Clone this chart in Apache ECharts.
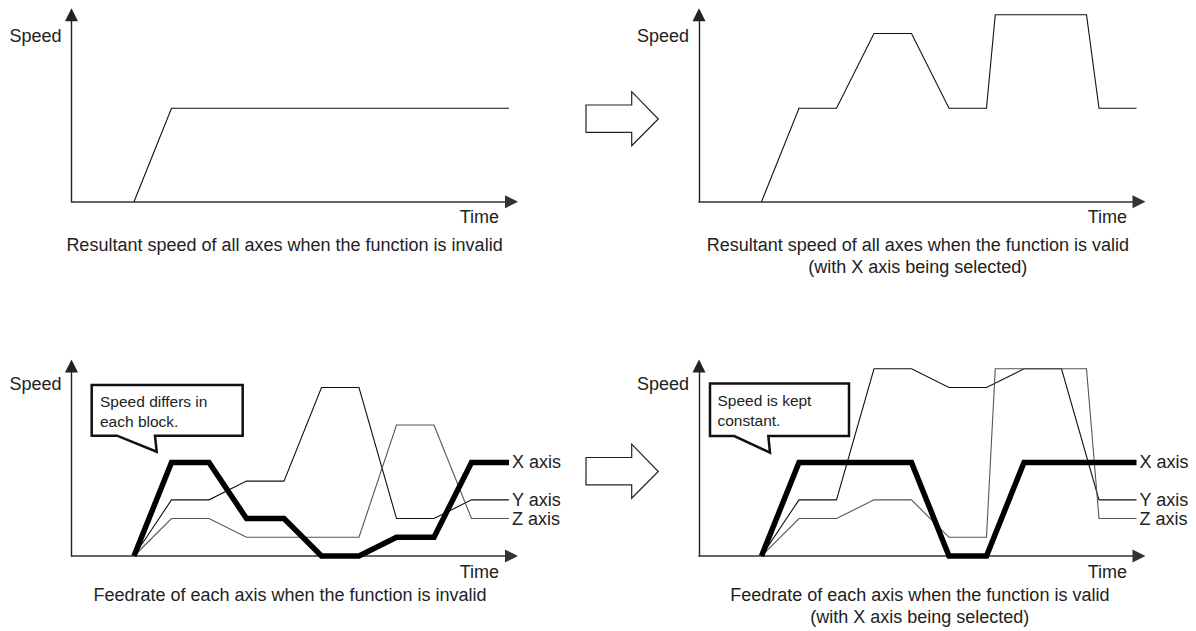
<!DOCTYPE html>
<html>
<head>
<meta charset="utf-8">
<title>Speed / Time</title>
<script src="https://cdn.jsdelivr.net/npm/echarts@6/dist/echarts.min.js"></script>
<style>
    html, body { margin: 0; padding: 0; background: #fff; }
    #chart { width: 1196px; height: 631px; }
</style>
</head>
<body>
<div id="chart"></div>
<script>
    // time in block units, speed in level units: [time, speed]
    // resultant speed, function invalid / valid
    const resultInvalid = [[5, 0], [8, 10], [35, 10]];
    const resultValid = [[5, 0], [8, 10], [11, 10], [14, 18], [17, 18], [20, 10], [23, 10], [23.7, 20], [31, 20], [32, 10], [35, 10]];

    // feedrate of each axis, function invalid
    const xInvalid = [[5, 0], [8, 10], [11, 10], [14, 4], [17, 4], [20, 0], [23, 0], [26, 2], [29, 2], [32, 10], [35, 10]];
    const yInvalid = [[5, 0], [8, 6], [11, 6], [14, 8], [17, 8], [20, 18], [23, 18], [26, 4], [29, 4], [32, 6], [35, 6]];
    const zInvalid = [[5, 0], [8, 4], [11, 4], [14, 2], [23, 2], [26, 14], [29, 14], [32, 4], [35, 4]];

    // feedrate of each axis, function valid (X axis selected)
    const xValid = [[5, 0], [8, 10], [17, 10], [20, 0], [23, 0], [26, 10], [35, 10]];
    const yValid = [[5, 0], [8, 6], [11, 6], [14, 20], [17, 20], [20, 18], [23, 18], [26, 20], [29, 20], [32, 6], [35, 6]];
    const zValid = [[5, 0], [8, 4], [11, 4], [14, 6], [17, 6], [20, 2], [23, 2], [23.7, 20], [31, 20], [32, 4], [35, 4]];

    const axisNames = ['X axis', 'Y axis', 'Z axis'];
    const captions = [
        'Resultant speed of all axes when the function is invalid',
        'Resultant speed of all axes when the function is valid\n(with X axis being selected)',
        'Feedrate of each axis when the function is invalid',
        'Feedrate of each axis when the function is valid\n(with X axis being selected)'
    ];
    const callouts = ['Speed differs in\neach block.', 'Speed is kept\nconstant.'];

    const FONT = '"Liberation Sans", Arial, sans-serif';
    const INK = '#222';

    const myChart = echarts.init(document.getElementById('chart'), null, { renderer: 'svg' });

    // 4 panels
    const grids = [
        { left: 71.5, top: 14.8, width: 440, height: 187 },
        { left: 699, top: 14.8, width: 440, height: 187 },
        { left: 71.5, top: 366, width: 440, height: 190 },
        { left: 699, top: 366, width: 440, height: 190 }
    ];
    const yMax = [20, 20, 20.3, 20.3];
    const speedGap = [-21, -21, -18, -18];

    const xAxes = grids.map((g, i) => ({
        gridIndex: i,
        type: 'value',
        min: 0,
        max: 35.2,
        axisLine: {
            symbol: ['none', 'triangle'],
            symbolSize: [13, 13],
            lineStyle: { color: '#333', width: 1.6 }
        },
        axisTick: { show: false },
        axisLabel: { show: false },
        splitLine: { show: false }
    }));

    const yAxes = grids.map((g, i) => ({
        gridIndex: i,
        type: 'value',
        min: 0,
        max: yMax[i],
        name: 'Speed',
        nameLocation: 'end',
        nameGap: speedGap[i],
        nameTextStyle: {
            fontFamily: FONT, fontSize: 18, color: INK,
            align: 'right', verticalAlign: 'middle', padding: [0, 10, 0, 0]
        },
        axisLine: {
            show: true,
            symbol: ['none', 'triangle'],
            symbolSize: [13, 13],
            lineStyle: { color: '#222', width: 1.4 }
        },
        axisTick: { show: false },
        axisLabel: { show: false },
        splitLine: { show: false }
    }));

    function line(idx, data, width, color, label) {
        return {
            type: 'line',
            xAxisIndex: idx,
            yAxisIndex: idx,
            data: data,
            showSymbol: false,
            silent: true,
            clip: false,
            lineStyle: { width: width, color: color, join: 'miter' },
            endLabel: label ? {
                show: true,
                formatter: label,
                distance: 3,
                fontFamily: FONT,
                fontSize: 18,
                color: INK
            } : { show: false }
        };
    }

    const series = [
        line(0, resultInvalid, 1.1, '#111'),
        line(1, resultValid, 1.1, '#111'),
        line(2, yInvalid, 1.1, '#111', axisNames[1]),
        line(2, zInvalid, 1.1, '#555', axisNames[2]),
        line(2, xInvalid, 5.5, '#000', axisNames[0]),
        line(3, yValid, 1.1, '#111', axisNames[1]),
        line(3, zValid, 1.1, '#555', axisNames[2]),
        line(3, xValid, 5.5, '#000', axisNames[0])
    ];

    // block arrow between panels
    function blockArrow(dy) {
        const pts = [[586, 105], [631.7, 105], [631.7, 91.7], [658.3, 119], [631.7, 145.7], [631.7, 132.3], [586, 132.3]];
        return {
            type: 'polygon',
            shape: { points: pts.map(p => [p[0], p[1] + dy]) },
            style: { fill: '#fff', stroke: '#222', lineWidth: 1.2 }
        };
    }

    // speech bubble
    function callout(pts, text, tx, ty) {
        return [{
            type: 'polygon',
            z: 10,
            shape: { points: pts },
            style: { fill: '#fff', stroke: '#111', lineWidth: 2.5, lineJoin: 'miter' }
        }, {
            type: 'text',
            z: 11,
            x: tx,
            y: ty,
            style: { text: text, font: '15.5px ' + FONT, fill: INK, lineHeight: 19.5, verticalAlign: 'top' }
        }];
    }

    function label(text, x, y, align, size, lh) {
        return {
            type: 'text',
            x: x,
            y: y,
            style: {
                text: text, font: size + 'px ' + FONT, fill: INK,
                align: align, verticalAlign: 'middle', lineHeight: lh || size
            }
        };
    }

    const graphic = [
        blockArrow(0),
        blockArrow(352.5),
        ...callout([[91.7, 385], [242.7, 385], [242.7, 435.7], [155, 435.7], [156.7, 451.7], [117, 435.7], [91.7, 435.7]],
            callouts[0], 100, 392),
        ...callout([[710, 383.5], [849, 383.5], [849, 436], [768.3, 436], [770, 452.7], [734.3, 436], [710, 436]],
            callouts[1], 717.5, 391),
        // axis names "Time"
        label('Time', 499, 216.7, 'right', 18),
        label('Time', 1127, 216.7, 'right', 18),
        label('Time', 499, 571.7, 'right', 18),
        label('Time', 1127, 571.7, 'right', 18),
        // captions
        label(captions[0], 284.5, 245, 'center', 18),
        label(captions[1], 917.8, 256.3, 'center', 18, 22),
        label(captions[2], 290, 594.5, 'center', 18),
        label(captions[3], 919.8, 605.6, 'center', 18, 22)
    ];

    myChart.setOption({
        animation: false,
        backgroundColor: '#fff',
        grid: grids,
        xAxis: xAxes,
        yAxis: yAxes,
        series: series,
        graphic: graphic
    });

    window.addEventListener('resize', () => {
        myChart.resize();
    });
</script>
</body>
</html>
